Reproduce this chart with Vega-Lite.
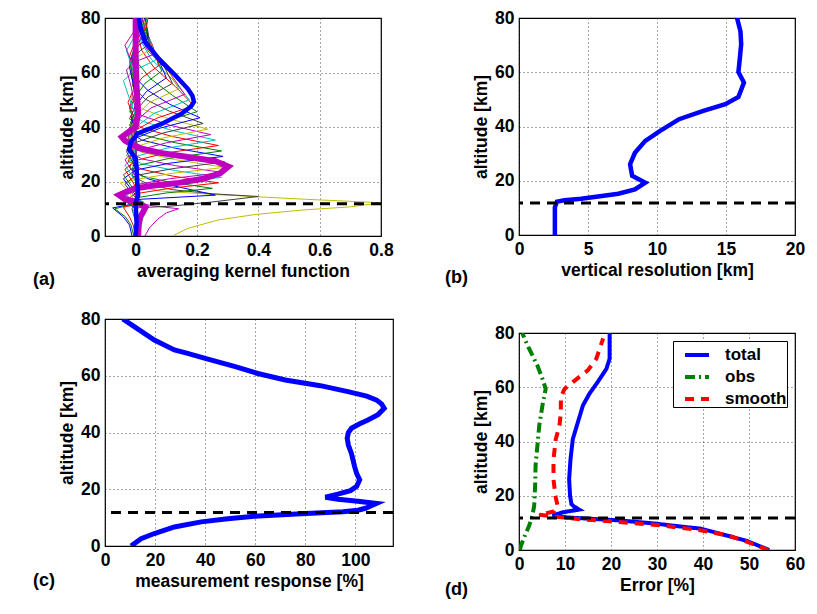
{
  "$schema": "https://vega.github.io/schema/vega-lite/v6.json",
  "padding": {"left": 32, "top": 8, "right": 5, "bottom": 5},
  "background": "white",
  "config": {
    "font": "Liberation Sans",
    "view": {"stroke": "black", "strokeWidth": 1.2},
    "axis": {
      "labelFont": "Liberation Sans", "labelFontSize": 17.5, "labelFontWeight": "bold", "labelColor": "black",
      "titleFont": "Liberation Sans", "titleFontSize": 17.5, "titleFontWeight": "bold", "titleColor": "black",
      "grid": true, "gridColor": "#000000", "gridOpacity": 0.7, "gridDash": [1, 3], "gridWidth": 1,
      "domain": false, "ticks": false, "labelPadding": 5, "titlePadding": 4, "labelFlush": false, "labelOverlap": false
    },
    "title": {"font": "Liberation Sans", "fontSize": 18, "fontWeight": "bold", "color": "black", "orient": "bottom", "anchor": "start", "frame": "group"}
  },
  "datasets": {
    "tropopause": [{"alt": 11.8}],
    "kernels": [
      {"k":0,"alt":0,"v":0.005},{"k":0,"alt":5,"v":0},{"k":0,"alt":10,"v":-0.012},{"k":0,"alt":12,"v":0},{"k":0,"alt":40,"v":0.002},{"k":0,"alt":80,"v":0},
      {"k":2,"alt":0,"v":-0.012},{"k":2,"alt":4,"v":-0.02},{"k":2,"alt":7,"v":-0.04},{"k":2,"alt":10.3,"v":-0.075},{"k":2,"alt":11.5,"v":-0.02},{"k":2,"alt":13,"v":0},{"k":2,"alt":40,"v":0.003},{"k":2,"alt":80,"v":0},
      {"k":4,"alt":0,"v":-0.006},{"k":4,"alt":4,"v":-0.015},{"k":4,"alt":7,"v":-0.033},{"k":4,"alt":10,"v":-0.068},{"k":4,"alt":11.5,"v":-0.015},{"k":4,"alt":13,"v":0},{"k":4,"alt":40,"v":0},{"k":4,"alt":80,"v":0.002},
      {"k":6,"alt":0,"v":0},{"k":6,"alt":4,"v":-0.008},{"k":6,"alt":7,"v":-0.02},{"k":6,"alt":10.5,"v":-0.04},{"k":6,"alt":12,"v":0.015},{"k":6,"alt":13.5,"v":0},{"k":6,"alt":40,"v":0},{"k":6,"alt":80,"v":0},
      {"k":8,"alt":0,"v":0.01},{"k":8,"alt":5,"v":0.005},{"k":8,"alt":9,"v":-0.01},{"k":8,"alt":11,"v":0.01},{"k":8,"alt":12.5,"v":0.025},{"k":8,"alt":14,"v":0},{"k":8,"alt":40,"v":0},{"k":8,"alt":80,"v":0.005},
      {"k":10,"alt":0,"v":0.03},{"k":10,"alt":3,"v":0.045},{"k":10,"alt":6,"v":0.07},{"k":10,"alt":8.5,"v":0.1},{"k":10,"alt":10,"v":0.14},{"k":10,"alt":11,"v":0.06},{"k":10,"alt":12,"v":0.01},{"k":10,"alt":14,"v":0},{"k":10,"alt":40,"v":0},{"k":10,"alt":80,"v":0},
      {"k":12,"alt":0,"v":0.12},{"k":12,"alt":2.8,"v":0.17},{"k":12,"alt":5.9,"v":0.27},{"k":12,"alt":7.9,"v":0.39},{"k":12,"alt":9.5,"v":0.54},{"k":12,"alt":10.7,"v":0.7},{"k":12,"alt":12.2,"v":0.8},{"k":12,"alt":13.5,"v":0.55},{"k":12,"alt":15.2,"v":0.26},{"k":12,"alt":16.5,"v":0.08},{"k":12,"alt":18,"v":0.02},{"k":12,"alt":22,"v":-0.01},{"k":12,"alt":30,"v":0},{"k":12,"alt":80,"v":0},
      {"k":14,"alt":0,"v":0},{"k":14,"alt":8,"v":0},{"k":14,"alt":10.3,"v":0},{"k":14,"alt":11,"v":0.12},{"k":14,"alt":12.5,"v":0.25},{"k":14,"alt":14.5,"v":0.4},{"k":14,"alt":15.5,"v":0.25},{"k":14,"alt":17,"v":0.12},{"k":14,"alt":19,"v":0.04},{"k":14,"alt":22,"v":-0.01},{"k":14,"alt":28,"v":0},{"k":14,"alt":80,"v":0},
      {"k":16,"alt":0,"v":0},{"k":16,"alt":10,"v":0},{"k":16,"alt":12.5,"v":-0.03},{"k":16,"alt":13.5,"v":0.02},{"k":16,"alt":15,"v":0.26},{"k":16,"alt":16.5,"v":0.2},{"k":16,"alt":18.5,"v":0.12},{"k":16,"alt":21,"v":0.04},{"k":16,"alt":24,"v":-0.01},{"k":16,"alt":30,"v":0},{"k":16,"alt":80,"v":0},
      {"k":18,"alt":0,"v":0},{"k":18,"alt":10,"v":0.005},{"k":18,"alt":12.5,"v":-0.03},{"k":18,"alt":14,"v":0},{"k":18,"alt":15.8,"v":0.1},{"k":18,"alt":17.5,"v":0.25},{"k":18,"alt":19.8,"v":0.11},{"k":18,"alt":22,"v":0.02},{"k":18,"alt":25,"v":-0.02},{"k":18,"alt":30,"v":0},{"k":18,"alt":80,"v":0.003},
      {"k":20,"alt":0,"v":0},{"k":20,"alt":11,"v":0},{"k":20,"alt":13,"v":-0.035},{"k":20,"alt":15.5,"v":0},{"k":20,"alt":17.5,"v":0.11},{"k":20,"alt":19.5,"v":0.27},{"k":20,"alt":22,"v":0.12},{"k":20,"alt":24.5,"v":0.02},{"k":20,"alt":27.5,"v":-0.025},{"k":20,"alt":33,"v":0},{"k":20,"alt":80,"v":0},
      {"k":22,"alt":0,"v":0},{"k":22,"alt":12,"v":0},{"k":22,"alt":15,"v":-0.035},{"k":22,"alt":17.5,"v":0},{"k":22,"alt":19.5,"v":0.11},{"k":22,"alt":21.5,"v":0.28},{"k":22,"alt":24,"v":0.13},{"k":22,"alt":26.5,"v":0.02},{"k":22,"alt":29.5,"v":-0.03},{"k":22,"alt":35,"v":0},{"k":22,"alt":80,"v":0},
      {"k":24,"alt":0,"v":0},{"k":24,"alt":12,"v":0},{"k":24,"alt":16,"v":-0.04},{"k":24,"alt":18.8,"v":0},{"k":24,"alt":21,"v":0.11},{"k":24,"alt":23.3,"v":0.285},{"k":24,"alt":25.8,"v":0.13},{"k":24,"alt":28.3,"v":0.02},{"k":24,"alt":31.5,"v":-0.03},{"k":24,"alt":37,"v":0},{"k":24,"alt":80,"v":0.002},
      {"k":26,"alt":0,"v":0},{"k":26,"alt":12,"v":0},{"k":26,"alt":16,"v":-0.02},{"k":26,"alt":19.5,"v":-0.05},{"k":26,"alt":20.7,"v":0},{"k":26,"alt":23,"v":0.12},{"k":26,"alt":25.2,"v":0.29},{"k":26,"alt":28,"v":0.13},{"k":26,"alt":30.7,"v":0.02},{"k":26,"alt":34,"v":-0.03},{"k":26,"alt":40,"v":0},{"k":26,"alt":80,"v":0},
      {"k":28,"alt":0,"v":0},{"k":28,"alt":14,"v":0},{"k":28,"alt":19,"v":-0.035},{"k":28,"alt":22.2,"v":0},{"k":28,"alt":24.7,"v":0.12},{"k":28,"alt":27.2,"v":0.29},{"k":28,"alt":30,"v":0.13},{"k":28,"alt":32.7,"v":0.02},{"k":28,"alt":36,"v":-0.025},{"k":28,"alt":42,"v":0},{"k":28,"alt":80,"v":0},
      {"k":30,"alt":0,"v":0},{"k":30,"alt":15,"v":0},{"k":30,"alt":21,"v":-0.04},{"k":30,"alt":24.2,"v":0},{"k":30,"alt":26.7,"v":0.11},{"k":30,"alt":29.2,"v":0.285},{"k":30,"alt":32.2,"v":0.13},{"k":30,"alt":35.2,"v":0.02},{"k":30,"alt":38.5,"v":-0.025},{"k":30,"alt":44,"v":0},{"k":30,"alt":80,"v":0},
      {"k":32,"alt":0,"v":0},{"k":32,"alt":16,"v":0},{"k":32,"alt":22.5,"v":-0.04},{"k":32,"alt":25.7,"v":0},{"k":32,"alt":28.5,"v":0.11},{"k":32,"alt":31.2,"v":0.28},{"k":32,"alt":34.2,"v":0.13},{"k":32,"alt":37.2,"v":0.02},{"k":32,"alt":40.5,"v":-0.02},{"k":32,"alt":46,"v":0},{"k":32,"alt":80,"v":0.002},
      {"k":34,"alt":0,"v":0},{"k":34,"alt":18,"v":0},{"k":34,"alt":24.5,"v":-0.035},{"k":34,"alt":27.7,"v":0},{"k":34,"alt":30.5,"v":0.1},{"k":34,"alt":33.2,"v":0.27},{"k":34,"alt":36.5,"v":0.12},{"k":34,"alt":39.7,"v":0.02},{"k":34,"alt":43,"v":-0.02},{"k":34,"alt":48,"v":0},{"k":34,"alt":80,"v":0},
      {"k":36,"alt":0,"v":0},{"k":36,"alt":20,"v":0},{"k":36,"alt":26,"v":-0.035},{"k":36,"alt":29.2,"v":0},{"k":36,"alt":32.2,"v":0.1},{"k":36,"alt":35.2,"v":0.26},{"k":36,"alt":38.7,"v":0.12},{"k":36,"alt":42.2,"v":0.02},{"k":36,"alt":45.5,"v":-0.02},{"k":36,"alt":51,"v":0},{"k":36,"alt":80,"v":0},
      {"k":38,"alt":0,"v":0},{"k":38,"alt":22,"v":0},{"k":38,"alt":28,"v":-0.035},{"k":38,"alt":31.2,"v":0},{"k":38,"alt":34.2,"v":0.1},{"k":38,"alt":37.2,"v":0.245},{"k":38,"alt":40.7,"v":0.11},{"k":38,"alt":44.2,"v":0.02},{"k":38,"alt":47.5,"v":-0.02},{"k":38,"alt":53,"v":0},{"k":38,"alt":80,"v":0},
      {"k":40,"alt":0,"v":0},{"k":40,"alt":24,"v":0},{"k":40,"alt":29.5,"v":-0.03},{"k":40,"alt":32.7,"v":0},{"k":40,"alt":36,"v":0.09},{"k":40,"alt":39.2,"v":0.235},{"k":40,"alt":43,"v":0.11},{"k":40,"alt":46.7,"v":0.02},{"k":40,"alt":50,"v":-0.015},{"k":40,"alt":56,"v":0},{"k":40,"alt":80,"v":0},
      {"k":42,"alt":0,"v":0},{"k":42,"alt":25,"v":0},{"k":42,"alt":31,"v":-0.03},{"k":42,"alt":34.3,"v":0},{"k":42,"alt":37.8,"v":0.09},{"k":42,"alt":41.3,"v":0.22},{"k":42,"alt":45.8,"v":0.11},{"k":42,"alt":50.3,"v":0.03},{"k":42,"alt":55,"v":-0.01},{"k":42,"alt":62,"v":0},{"k":42,"alt":80,"v":0},
      {"k":44,"alt":0,"v":0},{"k":44,"alt":26,"v":0},{"k":44,"alt":32.5,"v":-0.025},{"k":44,"alt":35.9,"v":0},{"k":44,"alt":39.6,"v":0.08},{"k":44,"alt":43.4,"v":0.21},{"k":44,"alt":48.4,"v":0.11},{"k":44,"alt":53.4,"v":0.04},{"k":44,"alt":58,"v":0},{"k":44,"alt":64,"v":-0.01},{"k":44,"alt":80,"v":0},
      {"k":46,"alt":0,"v":0},{"k":46,"alt":28,"v":0},{"k":46,"alt":34,"v":-0.02},{"k":46,"alt":37.6,"v":0},{"k":46,"alt":41.6,"v":0.08},{"k":46,"alt":45.6,"v":0.2},{"k":46,"alt":51.6,"v":0.12},{"k":46,"alt":57.6,"v":0.05},{"k":46,"alt":63,"v":0.01},{"k":46,"alt":70,"v":0},{"k":46,"alt":80,"v":0},
      {"k":48,"alt":0,"v":0},{"k":48,"alt":28,"v":0},{"k":48,"alt":35,"v":-0.02},{"k":48,"alt":38.8,"v":0},{"k":48,"alt":43.3,"v":0.07},{"k":48,"alt":47.8,"v":0.19},{"k":48,"alt":54.8,"v":0.13},{"k":48,"alt":61.8,"v":0.06},{"k":48,"alt":68,"v":0.02},{"k":48,"alt":75,"v":0.005},{"k":48,"alt":80,"v":0},
      {"k":50,"alt":0,"v":0},{"k":50,"alt":30,"v":0},{"k":50,"alt":36.5,"v":-0.02},{"k":50,"alt":40,"v":0},{"k":50,"alt":45,"v":0.06},{"k":50,"alt":50,"v":0.175},{"k":50,"alt":57.5,"v":0.12},{"k":50,"alt":65,"v":0.05},{"k":50,"alt":72,"v":0.015},{"k":50,"alt":80,"v":0.005},
      {"k":52,"alt":0,"v":0},{"k":52,"alt":32,"v":0},{"k":52,"alt":38,"v":-0.015},{"k":52,"alt":42,"v":0},{"k":52,"alt":47,"v":0.05},{"k":52,"alt":52,"v":0.16},{"k":52,"alt":60,"v":0.11},{"k":52,"alt":68,"v":0.04},{"k":52,"alt":74,"v":0.01},{"k":52,"alt":80,"v":0.005},
      {"k":54,"alt":0,"v":0},{"k":54,"alt":34,"v":0},{"k":54,"alt":40,"v":-0.015},{"k":54,"alt":44,"v":0},{"k":54,"alt":49,"v":0.045},{"k":54,"alt":54,"v":0.14},{"k":54,"alt":62,"v":0.1},{"k":54,"alt":70,"v":0.04},{"k":54,"alt":76,"v":0.015},{"k":54,"alt":80,"v":0.01},
      {"k":56,"alt":0,"v":0},{"k":56,"alt":36,"v":0},{"k":56,"alt":42,"v":-0.015},{"k":56,"alt":46,"v":0},{"k":56,"alt":51,"v":0.04},{"k":56,"alt":56,"v":0.12},{"k":56,"alt":64,"v":0.085},{"k":56,"alt":72,"v":0.035},{"k":56,"alt":80,"v":0.01},
      {"k":58,"alt":0,"v":0},{"k":58,"alt":38,"v":0},{"k":58,"alt":44,"v":-0.015},{"k":58,"alt":48,"v":0},{"k":58,"alt":53,"v":0.035},{"k":58,"alt":58,"v":0.1},{"k":58,"alt":66,"v":0.07},{"k":58,"alt":74,"v":0.03},{"k":58,"alt":80,"v":0.012},
      {"k":60,"alt":0,"v":0},{"k":60,"alt":40,"v":0},{"k":60,"alt":47,"v":-0.02},{"k":60,"alt":51,"v":0},{"k":60,"alt":56,"v":0.03},{"k":60,"alt":60.5,"v":0.085},{"k":60,"alt":68,"v":0.06},{"k":60,"alt":75,"v":0.03},{"k":60,"alt":80,"v":0.015},
      {"k":62,"alt":0,"v":0},{"k":62,"alt":42,"v":0},{"k":62,"alt":49,"v":-0.025},{"k":62,"alt":53,"v":-0.01},{"k":62,"alt":58,"v":0.02},{"k":62,"alt":62.5,"v":0.075},{"k":62,"alt":70,"v":0.055},{"k":62,"alt":76,"v":0.03},{"k":62,"alt":80,"v":0.02},
      {"k":64,"alt":0,"v":0},{"k":64,"alt":44,"v":0},{"k":64,"alt":52,"v":-0.025},{"k":64,"alt":57,"v":-0.04},{"k":64,"alt":61,"v":0},{"k":64,"alt":64.5,"v":0.065},{"k":64,"alt":71,"v":0.05},{"k":64,"alt":77,"v":0.03},{"k":64,"alt":80,"v":0.02},
      {"k":66,"alt":0,"v":0},{"k":66,"alt":46,"v":0},{"k":66,"alt":55,"v":-0.015},{"k":66,"alt":61,"v":-0.03},{"k":66,"alt":64,"v":0},{"k":66,"alt":66.5,"v":0.055},{"k":66,"alt":72,"v":0.045},{"k":66,"alt":77,"v":0.03},{"k":66,"alt":80,"v":0.02},
      {"k":68,"alt":0,"v":0},{"k":68,"alt":48,"v":0},{"k":68,"alt":57,"v":-0.01},{"k":68,"alt":62,"v":-0.02},{"k":68,"alt":66,"v":0.01},{"k":68,"alt":68.5,"v":0.05},{"k":68,"alt":74,"v":0.04},{"k":68,"alt":78,"v":0.03},{"k":68,"alt":80,"v":0.025},
      {"k":70,"alt":0,"v":0},{"k":70,"alt":50,"v":0},{"k":70,"alt":60,"v":-0.015},{"k":70,"alt":65,"v":-0.01},{"k":70,"alt":68,"v":0.015},{"k":70,"alt":70.5,"v":0.045},{"k":70,"alt":75,"v":0.04},{"k":70,"alt":80,"v":0.03},
      {"k":72,"alt":0,"v":0},{"k":72,"alt":52,"v":0},{"k":72,"alt":62,"v":-0.02},{"k":72,"alt":67,"v":-0.01},{"k":72,"alt":70,"v":0.01},{"k":72,"alt":72.5,"v":0.04},{"k":72,"alt":77,"v":0.035},{"k":72,"alt":80,"v":0.03},
      {"k":74,"alt":0,"v":0},{"k":74,"alt":54,"v":0},{"k":74,"alt":64,"v":-0.02},{"k":74,"alt":70,"v":0},{"k":74,"alt":74.5,"v":0.035},{"k":74,"alt":78,"v":0.035},{"k":74,"alt":80,"v":0.035},
      {"k":76,"alt":0,"v":0},{"k":76,"alt":56,"v":0},{"k":76,"alt":66,"v":-0.02},{"k":76,"alt":72,"v":0},{"k":76,"alt":76.5,"v":0.035},{"k":76,"alt":80,"v":0.04},
      {"k":78,"alt":0,"v":0},{"k":78,"alt":58,"v":0},{"k":78,"alt":68,"v":-0.03},{"k":78,"alt":74,"v":0},{"k":78,"alt":78,"v":0.03},{"k":78,"alt":80,"v":0.04},
      {"k":80,"alt":0,"v":0},{"k":80,"alt":60,"v":0},{"k":80,"alt":70,"v":-0.035},{"k":80,"alt":76,"v":0},{"k":80,"alt":80,"v":0.035}
    ],
    "highlight": [
      {"name":"mag","alt":0,"v":0.008},{"name":"mag","alt":4,"v":0.01},{"name":"mag","alt":7,"v":0.015},{"name":"mag","alt":9,"v":0.025},{"name":"mag","alt":10.5,"v":0.032},{"name":"mag","alt":11.5,"v":0.02},{"name":"mag","alt":12.5,"v":0},{"name":"mag","alt":13.5,"v":-0.035},{"name":"mag","alt":15,"v":-0.054},{"name":"mag","alt":16.2,"v":-0.03},{"name":"mag","alt":17.5,"v":0},{"name":"mag","alt":18.5,"v":0.06},{"name":"mag","alt":19.5,"v":0.14},{"name":"mag","alt":21,"v":0.22},{"name":"mag","alt":23,"v":0.275},{"name":"mag","alt":25.5,"v":0.302},{"name":"mag","alt":27.5,"v":0.26},{"name":"mag","alt":29,"v":0.17},{"name":"mag","alt":30.5,"v":0.08},{"name":"mag","alt":32,"v":0.02},{"name":"mag","alt":33.5,"v":-0.01},{"name":"mag","alt":35,"v":-0.035},{"name":"mag","alt":36.3,"v":-0.045},{"name":"mag","alt":38,"v":-0.025},{"name":"mag","alt":40,"v":0},{"name":"mag","alt":45,"v":0.008},{"name":"mag","alt":55,"v":0.003},{"name":"mag","alt":65,"v":0},{"name":"mag","alt":80,"v":0},
      {"name":"blue","alt":0,"v":0},{"name":"blue","alt":5,"v":0.003},{"name":"blue","alt":12,"v":0},{"name":"blue","alt":15,"v":0.008},{"name":"blue","alt":20,"v":0.005},{"name":"blue","alt":25,"v":0.003},{"name":"blue","alt":28.6,"v":0},{"name":"blue","alt":31.6,"v":-0.021},{"name":"blue","alt":34.5,"v":-0.016},{"name":"blue","alt":36.5,"v":0},{"name":"blue","alt":37.5,"v":0.005},{"name":"blue","alt":38.7,"v":0.03},{"name":"blue","alt":41.2,"v":0.086},{"name":"blue","alt":44.9,"v":0.15},{"name":"blue","alt":47.5,"v":0.18},{"name":"blue","alt":49.2,"v":0.19},{"name":"blue","alt":51.5,"v":0.185},{"name":"blue","alt":54,"v":0.17},{"name":"blue","alt":58.9,"v":0.13},{"name":"blue","alt":65,"v":0.076},{"name":"blue","alt":71,"v":0.032},{"name":"blue","alt":76,"v":0.016},{"name":"blue","alt":80,"v":0.01}
    ],
    "resolution": [
      {"alt":0,"res":2.6},{"alt":10.2,"res":2.6},{"alt":12.3,"res":2.75},{"alt":12.8,"res":3.3},{"alt":13.4,"res":4.5},{"alt":14.4,"res":6.0},{"alt":15.2,"res":7.2},{"alt":16.8,"res":8.4},{"alt":19.3,"res":9.15},{"alt":21.8,"res":8.2},{"alt":26.1,"res":8.05},{"alt":30.3,"res":8.4},{"alt":34.7,"res":9.15},{"alt":38.3,"res":10.2},{"alt":42.7,"res":11.6},{"alt":45.7,"res":13.3},{"alt":48.2,"res":14.95},{"alt":50.9,"res":15.9},{"alt":56.2,"res":16.3},{"alt":60.1,"res":15.9},{"alt":65,"res":16.0},{"alt":70.3,"res":16.1},{"alt":75,"res":16.05},{"alt":80,"res":15.8}
    ],
    "response": [
      {"alt":0,"resp":10.4},{"alt":2.6,"resp":14.4},{"alt":4.4,"resp":19.7},{"alt":6.7,"resp":27.7},{"alt":8.5,"resp":38.4},{"alt":9.6,"resp":49},{"alt":10.5,"resp":59.7},{"alt":11.4,"resp":78.3},{"alt":12.1,"resp":95},{"alt":12.6,"resp":101},{"alt":13.3,"resp":104},{"alt":15.0,"resp":108.4},{"alt":15.8,"resp":101},{"alt":16.5,"resp":93},{"alt":17.2,"resp":88},{"alt":18.3,"resp":93},{"alt":19.5,"resp":98},{"alt":21,"resp":100.5},{"alt":23.3,"resp":101.7},{"alt":25.5,"resp":100.5},{"alt":27.9,"resp":99.7},{"alt":32.6,"resp":98.4},{"alt":35.5,"resp":97.2},{"alt":38,"resp":96.7},{"alt":40,"resp":97.2},{"alt":41.5,"resp":98.4},{"alt":43,"resp":101.5},{"alt":44.4,"resp":105},{"alt":46.3,"resp":109},{"alt":48.5,"resp":111.5},{"alt":50,"resp":110.5},{"alt":51.4,"resp":108.5},{"alt":52.8,"resp":104.5},{"alt":54.4,"resp":97},{"alt":56.5,"resp":86},{"alt":58.5,"resp":72},{"alt":60.8,"resp":61},{"alt":63.2,"resp":52},{"alt":66.1,"resp":40},{"alt":67.9,"resp":33},{"alt":69.1,"resp":27.7},{"alt":72.6,"resp":19.7},{"alt":77.3,"resp":11.7},{"alt":80,"resp":7.1}
    ],
    "errors": [
      {"series":"total","alt":0,"err":54.4},{"series":"total","alt":3.3,"err":49.6},{"series":"total","alt":5.3,"err":45.3},{"series":"total","alt":7.9,"err":39.4},{"series":"total","alt":8.4,"err":36.5},{"series":"total","alt":9.8,"err":29.2},{"series":"total","alt":10.9,"err":21.9},{"series":"total","alt":11.6,"err":14.6},{"series":"total","alt":12.0,"err":10.5},{"series":"total","alt":12.7,"err":7.3},{"series":"total","alt":13.9,"err":9.5},{"series":"total","alt":14.9,"err":13.1},{"series":"total","alt":16.0,"err":12.0},{"series":"total","alt":16.9,"err":11.4},{"series":"total","alt":20,"err":11.1},{"series":"total","alt":26.1,"err":10.9},{"series":"total","alt":33.5,"err":11.2},{"series":"total","alt":40.9,"err":11.7},{"series":"total","alt":47.1,"err":12.8},{"series":"total","alt":53.3,"err":13.9},{"series":"total","alt":57.6,"err":15.3},{"series":"total","alt":61.9,"err":17.1},{"series":"total","alt":66.8,"err":19.0},{"series":"total","alt":70.5,"err":19.7},{"series":"total","alt":80,"err":19.7},
      {"series":"obs","alt":0,"err":0.2},{"series":"obs","alt":1.5,"err":0.4},{"series":"obs","alt":4.6,"err":1.1},{"series":"obs","alt":8.9,"err":2.2},{"series":"obs","alt":12.6,"err":2.9},{"series":"obs","alt":16.3,"err":3.3},{"series":"obs","alt":23.7,"err":3.5},{"series":"obs","alt":31.1,"err":3.6},{"series":"obs","alt":38.5,"err":4.0},{"series":"obs","alt":45.9,"err":4.4},{"series":"obs","alt":53.3,"err":5.1},{"series":"obs","alt":59.4,"err":5.8},{"series":"obs","alt":63.1,"err":5.1},{"series":"obs","alt":68,"err":4.0},{"series":"obs","alt":74.2,"err":2.2},{"series":"obs","alt":80,"err":0.7},
      {"series":"smooth","alt":0,"err":54.2},{"series":"smooth","alt":3.0,"err":49.6},{"series":"smooth","alt":5.4,"err":45.3},{"series":"smooth","alt":7.3,"err":39.4},{"series":"smooth","alt":9.1,"err":30.7},{"series":"smooth","alt":10.6,"err":19.7},{"series":"smooth","alt":11.3,"err":13.5},{"series":"smooth","alt":11.8,"err":10.5},{"series":"smooth","alt":12.4,"err":7.3},{"series":"smooth","alt":13.0,"err":4.4},{"series":"smooth","alt":14.2,"err":7.6},{"series":"smooth","alt":16.3,"err":8.4},{"series":"smooth","alt":20,"err":7.9},{"series":"smooth","alt":26.1,"err":7.5},{"series":"smooth","alt":33.5,"err":7.5},{"series":"smooth","alt":40.9,"err":8.0},{"series":"smooth","alt":45.9,"err":8.8},{"series":"smooth","alt":50.8,"err":9.1},{"series":"smooth","alt":56.3,"err":9.1},{"series":"smooth","alt":59.4,"err":9.9},{"series":"smooth","alt":61.9,"err":11.7},{"series":"smooth","alt":66.3,"err":15.0},{"series":"smooth","alt":70.5,"err":16.8},{"series":"smooth","alt":78,"err":18.3}
    ]
  },
  "resolve": {"scale": {"color": "independent", "strokeDash": "independent"}, "legend": {"color": "independent", "strokeDash": "independent"}},
  "hconcat": [
    {
      "spacing": 19,
      "resolve": {"scale": {"color": "independent", "strokeDash": "independent"}, "legend": {"color": "independent", "strokeDash": "independent"}},
      "vconcat": [
        {
          "width": 276, "height": 218,
          "title": {"text": "(a)", "dx": -72, "offset": -9},
          "layer": [
            {
              "data": {"name": "kernels"},
              "mark": {"type": "line", "strokeWidth": 1, "clip": true},
              "encoding": {
                "x": {"field": "v", "type": "quantitative", "scale": {"domain": [-0.1, 0.8], "nice": false, "zero": false}, "axis": {"values": [0, 0.2, 0.4, 0.6, 0.8], "format": "~g", "title": "averaging kernel function"}},
                "y": {"field": "alt", "type": "quantitative", "scale": {"domain": [0, 80], "nice": false}, "axis": {"values": [0, 20, 40, 60, 80], "title": "altitude [km]"}},
                "color": {"field": "k", "type": "ordinal", "legend": null, "scale": {"domain": [0,2,4,6,8,10,12,14,16,18,20,22,24,26,28,30,32,34,36,38,40,42,44,46,48,50,52,54,56,58,60,62,64,66,68,70,72,74,76,78,80], "range": ["#404040", "#0000FF", "#008000", "#FF0000", "#00BFBF", "#BF00BF", "#BFBF00"]}},
                "order": {"field": "alt", "type": "quantitative"}
              }
            },
            {
              "data": {"name": "highlight"},
              "transform": [{"filter": "datum.name === 'mag'"}],
              "mark": {"type": "line", "strokeWidth": 6, "color": "#BF00BF", "clip": true},
              "encoding": {
                "x": {"field": "v", "type": "quantitative"},
                "y": {"field": "alt", "type": "quantitative"},
                "order": {"field": "alt", "type": "quantitative"}
              }
            },
            {
              "data": {"name": "highlight"},
              "transform": [{"filter": "datum.name === 'blue'"}],
              "mark": {"type": "line", "strokeWidth": 4.5, "color": "#0000FF", "clip": true},
              "encoding": {
                "x": {"field": "v", "type": "quantitative"},
                "y": {"field": "alt", "type": "quantitative"},
                "order": {"field": "alt", "type": "quantitative"}
              }
            },
            {
              "data": {"name": "tropopause"},
              "mark": {"type": "rule", "strokeDash": [10, 7], "strokeWidth": 3, "color": "black"},
              "encoding": {"y": {"field": "alt", "type": "quantitative"}}
            }
          ]
        },
        {
          "width": 288, "height": 227,
          "title": {"text": "(c)", "dx": -72, "offset": -18},
          "layer": [
            {
              "data": {"name": "response"},
              "mark": {"type": "line", "strokeWidth": 5, "color": "#0000FF", "clip": true},
              "encoding": {
                "x": {"field": "resp", "type": "quantitative", "scale": {"domain": [0, 115], "nice": false}, "axis": {"values": [0, 20, 40, 60, 80, 100], "title": "measurement response [%]"}},
                "y": {"field": "alt", "type": "quantitative", "scale": {"domain": [0, 80], "nice": false}, "axis": {"values": [0, 20, 40, 60, 80], "title": "altitude [km]"}},
                "order": {"field": "alt", "type": "quantitative"}
              }
            },
            {
              "data": {"name": "tropopause"},
              "mark": {"type": "rule", "strokeDash": [10, 7], "strokeWidth": 3, "color": "black"},
              "encoding": {"y": {"field": "alt", "type": "quantitative"}}
            }
          ]
        }
      ]
    },
    {
      "spacing": 35,
      "resolve": {"scale": {"color": "independent", "strokeDash": "independent"}, "legend": {"color": "independent", "strokeDash": "independent"}},
      "vconcat": [
        {
          "width": 276, "height": 217,
          "title": {"text": "(b)", "dx": -74, "offset": -10},
          "layer": [
            {
              "data": {"name": "resolution"},
              "mark": {"type": "line", "strokeWidth": 4.5, "color": "#0000FF", "clip": true},
              "encoding": {
                "x": {"field": "res", "type": "quantitative", "scale": {"domain": [0, 20], "nice": false}, "axis": {"values": [0, 5, 10, 15, 20], "title": "vertical resolution [km]"}},
                "y": {"field": "alt", "type": "quantitative", "scale": {"domain": [0, 80], "nice": false}, "axis": {"values": [0, 20, 40, 60, 80], "title": "altitude [km]"}},
                "order": {"field": "alt", "type": "quantitative"}
              }
            },
            {
              "data": {"name": "tropopause"},
              "mark": {"type": "rule", "strokeDash": [10, 7], "strokeWidth": 3, "color": "black"},
              "encoding": {"y": {"field": "alt", "type": "quantitative"}}
            }
          ]
        },
        {
          "width": 276, "height": 217,
          "title": {"text": "(d)", "dx": -74, "offset": -13},
          "layer": [
            {
              "data": {"name": "errors"},
              "mark": {"type": "line", "strokeWidth": 4, "clip": true},
              "encoding": {
                "x": {"field": "err", "type": "quantitative", "scale": {"domain": [0, 60], "nice": false}, "axis": {"values": [0, 10, 20, 30, 40, 50, 60], "title": "Error [%]"}},
                "y": {"field": "alt", "type": "quantitative", "scale": {"domain": [0, 80], "nice": false}, "axis": {"values": [0, 20, 40, 60, 80], "title": "altitude [km]"}},
                "color": {"field": "series", "type": "nominal", "scale": {"domain": ["total", "obs", "smooth"], "range": ["#0000FF", "#008000", "#FF0000"]}, "legend": {"title": null, "orient": "top-right", "offset": 8, "strokeColor": "black", "fillColor": "white", "padding": 0, "symbolOffset": 10, "symbolType": "stroke", "symbolSize": 576, "symbolStrokeWidth": 4, "labelFontSize": 17, "labelFontWeight": "bold", "labelColor": "black", "labelFont": "Liberation Sans", "labelOffset": 14, "rowPadding": -4.5}},
                "strokeDash": {"field": "series", "type": "nominal", "scale": {"domain": ["total", "obs", "smooth"], "range": [[1, 0], [10, 4, 2, 4], [9, 7]]}, "legend": {"title": null, "orient": "top-right", "offset": 8, "strokeColor": "black", "fillColor": "white", "padding": 0, "symbolOffset": 10, "symbolType": "stroke", "symbolSize": 576, "symbolStrokeWidth": 4, "labelFontSize": 17, "labelFontWeight": "bold", "labelColor": "black", "labelFont": "Liberation Sans", "labelOffset": 14, "rowPadding": -4.5}},
                "order": {"field": "alt", "type": "quantitative"}
              }
            },
            {
              "data": {"name": "tropopause"},
              "mark": {"type": "rule", "strokeDash": [10, 7], "strokeWidth": 3, "color": "black"},
              "encoding": {"y": {"field": "alt", "type": "quantitative"}}
            }
          ]
        }
      ]
    }
  ],
  "spacing": 48
}
